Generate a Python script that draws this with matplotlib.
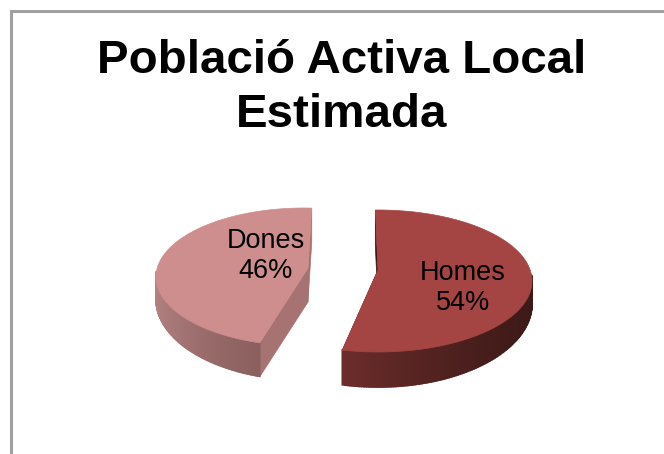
import numpy as np
import matplotlib
matplotlib.use('Agg')
import matplotlib.pyplot as plt
from matplotlib.colors import to_rgb

title = "Població Activa Local\nEstimada"
categories = ["Homes", "Dones"]
values = [54, 46]

top_colors = ['#a54543', '#cd8e8d']
cut_colors = ['#3a1412', '#a67372']
# side gradient, from the right/left extreme towards the cut corner
side_from = ['#3c1917', '#bb8a89']
side_to = ['#6c2d2b', '#8a5f5e']


def mix(c1, c2, t):
    return tuple((1 - t) * p + t * q for p, q in zip(to_rgb(c1), to_rgb(c2)))


def draw_slice(ax, tip, cx, cy, a, b, start, end, side_start, depth, i):
    def rim(ang):
        return (cx + a * np.cos(np.radians(ang)), cy - b * np.sin(np.radians(ang)))

    def wall(ang):
        # wall gets thinner towards the widest point of the disc
        return depth * (0.65 + 0.35 * np.abs(np.sin(np.radians(ang))))

    x, y = rim(np.linspace(start, end, 160))

    # cut faces go first, the top surface hides most of them
    for ang in [start, end]:
        rx, ry = rim(ang)
        ax.fill([tip[0], rx, rx, tip[0]],
                [tip[1], ry, ry + depth, tip[1] + depth],
                color=cut_colors[i], lw=0.5, zorder=2)

    # outer wall as thin strips for the gradient
    side = np.linspace(side_start, end, 120)
    sx, sy = rim(side)
    sd = wall(side)
    for j in range(len(side) - 1):
        t = (j / (len(side) - 2)) ** (2 if i == 0 else 1)
        ax.fill([sx[j], sx[j + 1], sx[j + 1], sx[j]],
                [sy[j], sy[j + 1], sy[j + 1] + sd[j + 1], sy[j] + sd[j]],
                color=mix(side_from[i], side_to[i], t), lw=1.2, zorder=3)

    ax.fill(np.r_[tip[0], x], np.r_[tip[1], y], color=top_colors[i], lw=0.5, zorder=4)


fig = plt.figure(figsize=(6.64, 4.54), dpi=100, facecolor='white')
ax = fig.add_axes([0, 0, 1, 1])
ax.set_xlim(0, 664)
ax.set_ylim(454, 0)
ax.axis('off')

# chart frame, open to the right and the bottom
ax.plot([11, 11, 664], [454, 11, 11], color='#a0a0a0', lw=2.2,
        solid_joinstyle='miter', zorder=1)

homes_sweep = values[0] * 3.6
dones_sweep = values[1] * 3.6
draw_slice(ax, (378, 270), 378, 281, 154, 71, 91, 91 - homes_sweep, 5, 35, 0)
draw_slice(ax, (308, 268), 304, 277, 148, 69, 87, 87 + dones_sweep, 175, 34, 1)

ax.text(342, 88, title, ha='center', va='center', fontsize=34.2,
        fontweight='bold', family='Liberation Sans', linespacing=1.32,
        color='black', zorder=5)

ax.text(463, 288, f"{categories[0]}\n{values[0]}%", ha='center', va='center',
        fontsize=19.5, family='Liberation Sans', linespacing=1.2, zorder=5)
ax.text(266, 256, f"{categories[1]}\n{values[1]}%", ha='center', va='center',
        fontsize=19.5, family='Liberation Sans', linespacing=1.2, zorder=5)

fig.savefig('out.png', dpi=100, facecolor='white')
